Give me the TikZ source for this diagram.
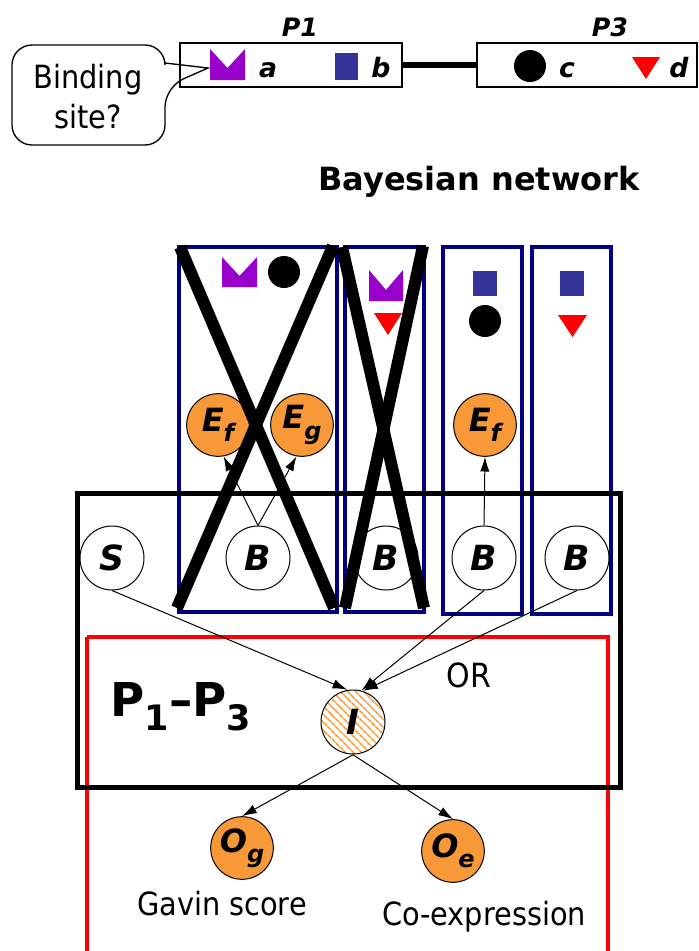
\documentclass[tikz,border=0pt]{standalone}
\usepackage{fontspec}
\setmainfont{DejaVu Sans}
\newfontfamily\condfont{DejaVu Sans Condensed}
\usepackage{xcolor}
\usepackage{tikz}
\usetikzlibrary{positioning,patterns.meta,arrows.meta}

\definecolor{nodeorange}{RGB}{247,153,56}
\definecolor{platenavy}{RGB}{0,0,128}
\definecolor{sitepurple}{RGB}{153,0,204}
\definecolor{siteblue}{RGB}{51,51,153}

% lowered index inside the circles
\newcommand\lowsub[1]{\raisebox{-0.32em}{\scalebox{0.75}{#1}}}

\begin{document}
\begin{tikzpicture}[x=0.75pt,y=0.75pt,yscale=-1,xscale=1,
  hidden/.style={circle,draw,line width=0.75pt,fill=white,minimum size=48pt,inner sep=0pt,font=\fontsize{26}{26}\selectfont\bfseries\itshape},
  observed/.style={circle,draw,line width=0.75pt,fill=nodeorange,minimum size=47pt,inner sep=0pt,font=\fontsize{24}{24}\selectfont\bfseries\itshape},
  link/.style={line width=0.75pt,-{Latex[length=11pt,width=7pt]}},
  protbox/.style={draw,line width=2pt,minimum height=33pt,inner sep=0pt},
  plate/.style={draw=platenavy,line width=3pt},
  cross/.style={line width=9pt},
  sitelabel/.style={anchor=base,font=\fontsize{20}{20}\selectfont\bfseries\itshape},
  caption/.style={anchor=base,font=\condfont\fontsize{24}{28}\selectfont}
]
\useasboundingbox (0,0) rectangle (699,951);

%Proteins
\node[protbox,minimum width=166.5pt] (P1box) at (291,65) {};
\node[protbox,minimum width=165pt] (P3box) at (587,65) {};
\draw[line width=5pt] (P1box.east) -- (P3box.west);
\node[anchor=base,font=\fontsize{19}{19}\selectfont\bfseries\itshape] (P1lab) at (300,36) {P1};
\node[anchor=base,font=\fontsize{19}{19}\selectfont\bfseries\itshape] (P3lab) at (610,36) {P3};

%Sites a b c d
\fill[sitepurple] (210,49) -- (210,80) -- (245,80) -- (245,49) -- (227.5,68) -- cycle;
\fill[siteblue] (335,53) rectangle (358,80);
\fill[black] (530,66) circle (16);
\fill[red] (632,57) -- (660,57) -- (646,79) -- cycle;
\node[sitelabel] (siteA) at (268,77) {a};
\node[sitelabel] (siteB) at (381,77) {b};
\node[sitelabel] (siteC) at (567,77) {c};
\node[sitelabel] (siteD) at (679,77) {d};

%Callout
\draw[line width=1pt,rounded corners=15] (165,63) -- (165,45) -- (12,45) -- (12,145) -- (165,145) -- (165,87) [sharp corners] -- (208,68) -- cycle;
\node[align=center,font=\condfont\fontsize{24}{30}\selectfont] (bind) at (88,97) {Binding\\site?};

\node[anchor=base,font=\fontsize{24}{24}\selectfont\bfseries] (bn) at (479,190) {Bayesian network};

%Plates
\draw[plate] (179,247) rectangle (337,612);
\draw[plate] (345,247) rectangle (424,612);
\draw[plate] (443,247) rectangle (522,614);
\draw[plate] (532,247) rectangle (611,614);

%Sites inside the plates
\fill[sitepurple] (222,257) -- (222,287) -- (257,287) -- (257,257) -- (239.5,276) -- cycle;
\fill[black] (284,272) circle (16);
\fill[sitepurple] (369,270) -- (369,301) -- (403,301) -- (403,270) -- (386,290) -- cycle;
\fill[red] (374,313) -- (402,313) -- (388,335) -- cycle;
\fill[siteblue] (473,271) rectangle (497,296);
\fill[black] (485,321) circle (16);
\fill[siteblue] (560,271) rectangle (584,296);
\fill[red] (558,315) -- (587,315) -- (572.5,337) -- cycle;

%Pair frames
\draw[red,line width=3pt] (87,637) -- (87,960) (608,960) -- (608,637) -- (87,637);
\draw[line width=3.75pt] (77,493) rectangle (620,787);

\node[anchor=base west,font=\fontsize{35}{35}\selectfont\bfseries] (pair) at (106,716) {P\lowsub{1}--P\lowsub{3}};
\node[caption,font=\condfont\fontsize{25}{28}\selectfont] (orlab) at (469,687) {OR};

%Nodes
\node[hidden] (S) at (112,558) {S};
\node[hidden] (B1) at (258,558) {B};
\node[hidden] (B2) at (386,558) {B};
\node[hidden] (B3) at (484,558) {B};
\node[hidden] (B4) at (577,558) {B};
\node[observed] (Ef1) at (218,425) {E\lowsub{f}};
\node[observed] (Eg) at (302,425) {E\lowsub{g}};
\node[observed] (Ef2) at (485,425) {E\lowsub{f}};
\node[hidden,fill=none,pattern={Lines[angle=-45,distance=4pt,line width=1.2pt]},pattern color=nodeorange] (I) at (353,722) {I};
\node[observed] (Og) at (242,848) {O\lowsub{g}};
\node[observed] (Oe) at (453,851) {O\lowsub{e}};

\node[caption] (gavin) at (222,915) {Gavin score};
\node[caption] (coexp) at (484,925) {Co-expression};

%Edges
\draw[link] (B1.north) -- (Ef1.-80);
\draw[link] (B1.north) -- (Eg.-100);
\draw[link] (B3.north) -- (Ef2.south);
\draw[link] (S.south) -- (I.100);
\draw[link] (B3.south) -- (I.75);
\draw[link] (B4.south) -- (I.72);
\draw[link] (I.south) -- (Og.north);
\draw[link] (I.south) -- (Oe.north);

%Excluded plates
\draw[cross] (180,247) -- (334,608);
\draw[cross] (333,246) -- (177,608);
\draw[cross] (342,247) -- (424,608);
\draw[cross] (423,246) -- (345,608);
\end{tikzpicture}
\end{document}
